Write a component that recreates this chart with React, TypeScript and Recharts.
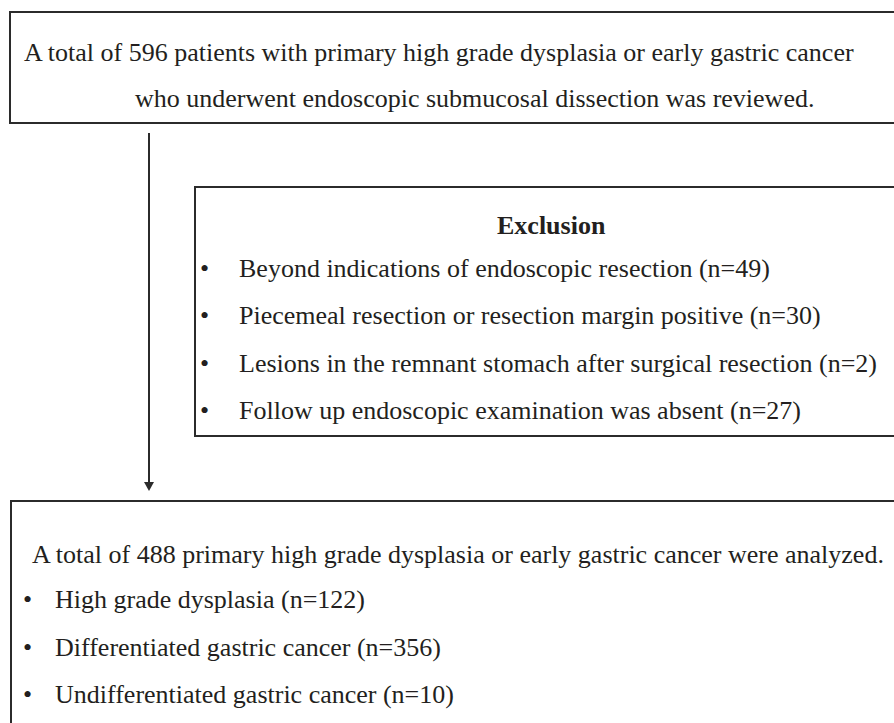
import React from "react";
import {
  ComposedChart,
  XAxis,
  YAxis,
  Scatter,
  ReferenceArea,
  ReferenceLine,
  ReferenceDot,
} from "recharts";

// flow content
const screenedLines = [
  "A total of 596 patients with primary high grade dysplasia or early gastric cancer",
  "who underwent endoscopic submucosal dissection was reviewed.",
];
const exclusionTitle = "Exclusion";
const exclusionReasons = [
  "Beyond indications of endoscopic resection",
  "Piecemeal resection or resection margin positive",
  "Lesions in the remnant stomach after surgical resection",
  "Follow up endoscopic examination was absent",
];
const exclusionCounts = [49, 30, 2, 27];
const analyzedLine = "A total of 488 primary high grade dysplasia or early gastric cancer were analyzed.";
const groupLabels = [
  "High grade dysplasia",
  "Differentiated gastric cancer",
  "Undifferentiated gastric cancer",
];
const groupCounts = [122, 356, 10];

const W = 894;
const H = 723;
const INK = "#231f20";
const LINE = "#2b2b2b";
const FONT = "'Liberation Serif', 'Times New Roman', serif";
const FS = 26;

type Node = { x: number; y: number; text: string; bold?: boolean };

const nodes: Node[] = [
  { x: 24, y: 61, text: screenedLines[0] },
  { x: 135, y: 107, text: screenedLines[1] },
  { x: 497, y: 234, text: exclusionTitle, bold: true },
  ...exclusionReasons.flatMap((r, i) => [
    { x: 200, y: 277 + i * 47.4, text: "\u2022" },
    { x: 239, y: 277 + i * 47.4, text: `${r} (n=${exclusionCounts[i]})` },
  ]),
  { x: 32, y: 563, text: analyzedLine },
  ...groupLabels.flatMap((g, i) => [
    { x: 23, y: 608 + i * 47.6, text: "\u2022" },
    { x: 55, y: 608 + i * 47.6, text: `${g} (n=${groupCounts[i]})` },
  ]),
];

const TextShape = (props: any) => {
  const { cx, cy, payload } = props;
  return (
    <text
      x={cx}
      y={cy}
      fontFamily={FONT}
      fontSize={FS}
      fontWeight={payload.bold ? 700 : 400}
      fill={INK}
    >
      {payload.text}
    </text>
  );
};

const ArrowHead = (props: any) => {
  const { cx, cy } = props;
  return <path d={`M${cx - 5},${cy - 9} L${cx + 5},${cy - 9} L${cx},${cy} Z`} fill={LINE} />;
};

export default function App() {
  return (
    <div style={{ position: "absolute", left: 0, top: 0, width: W, height: H, background: "#fff" }}>
      <ComposedChart width={W} height={H} margin={{ top: 0, right: 0, bottom: 0, left: 0 }}>
        <XAxis type="number" dataKey="x" domain={[0, W]} hide allowDataOverflow />
        <YAxis type="number" dataKey="y" domain={[0, H]} reversed hide allowDataOverflow />
        <ReferenceArea x1={10} x2={W + 20} y1={12} y2={123} fill="none" stroke={LINE} strokeWidth={2} ifOverflow="visible" />
        <ReferenceArea x1={195} x2={W + 20} y1={187} y2={436} fill="none" stroke={LINE} strokeWidth={2} ifOverflow="visible" />
        <ReferenceArea x1={11} x2={W + 20} y1={501} y2={H + 20} fill="none" stroke={LINE} strokeWidth={2} ifOverflow="visible" />
        <ReferenceLine segment={[{ x: 149, y: 133 }, { x: 149, y: 483 }]} stroke={LINE} strokeWidth={2} ifOverflow="visible" />
        <ReferenceDot x={149} y={491} r={5} shape={ArrowHead} ifOverflow="visible" />
        <Scatter data={nodes} dataKey="y" shape={TextShape} isAnimationActive={false} />
      </ComposedChart>
    </div>
  );
}
